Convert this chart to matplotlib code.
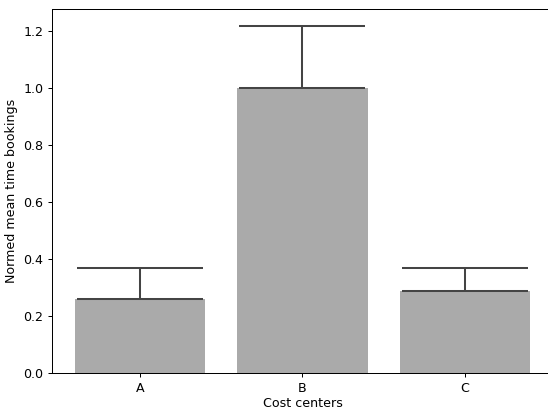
import numpy as np
import matplotlib
matplotlib.use("Agg")
import matplotlib.pyplot as plt

# values
centers = ["A", "B", "C"]
means = [0.26, 1.0, 0.288]
upper_err = [0.108, 0.217, 0.080]

DPI = 91
fig = plt.figure(figsize=(548 / DPI, 410 / DPI), dpi=DPI)
ax = fig.add_axes([52 / 548, 1 - 373 / 410, 501 / 548, 364 / 410])

x = np.arange(len(centers))
ax.bar(x, means, width=0.8, color="#aaaaaa")
ax.errorbar(x, means, yerr=[np.zeros(len(means)), upper_err], fmt="none",
            ecolor="#444444", elinewidth=1.6, capsize=50, capthick=1.6)

ax.set_xticks(x)
ax.set_xticklabels(centers)
ax.set_xlabel("Cost centers", labelpad=2)
ax.set_ylabel("Normed mean time bookings")
ax.set_ylim(0, None)

fig.savefig("out.png", dpi=DPI)
